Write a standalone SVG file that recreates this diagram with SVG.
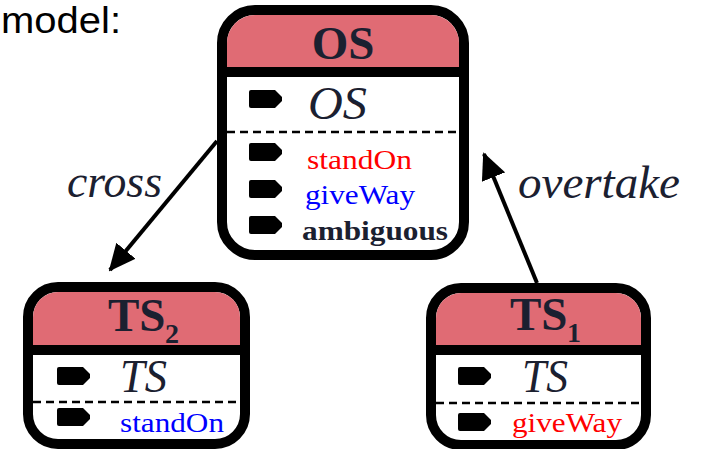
<svg xmlns="http://www.w3.org/2000/svg" width="703" height="449" viewBox="0 0 703 449">
<style>
.box{fill:#ffffff;stroke:#000;stroke-width:10}
.hdr{fill:#e06b74}
.sep{stroke:#000;stroke-width:10}
.dash{stroke:#000;stroke-width:2.5;stroke-dasharray:8 5}
.title{font-family:"Liberation Serif","Times New Roman",serif;font-weight:bold;font-size:47px;fill:#1b2030}
.sub{font-family:"Liberation Serif","Times New Roman",serif;font-weight:bold;font-size:28px;fill:#1b2030}
.it{font-family:"Liberation Serif","Times New Roman",serif;font-style:italic;font-size:46px;fill:#1b2030}
.item{font-family:"Liberation Serif","Times New Roman",serif;font-size:28px}
.conn{stroke:#000;stroke-width:4;fill:none}
</style>
<defs>
<path id="tag" d="M0,2 Q0,0 2,0 H26 L33,7 V11 L26,18 H2 Q0,18 0,16 Z" fill="#000"/>
<marker id="ah" markerUnits="userSpaceOnUse" markerWidth="27" markerHeight="25" refX="25" refY="12.5" orient="auto">
<path d="M0,0 L27,12.5 L0,25 Z" fill="#000"/>
</marker>
</defs>
<text x="1" y="33" font-family="Liberation Sans, Arial, sans-serif" font-size="36" fill="#000" textLength="120" lengthAdjust="spacingAndGlyphs">model:</text>
<g id="connectors">
<line class="conn" x1="217" y1="141" x2="110" y2="270" marker-end="url(#ah)"/>
<line class="conn" x1="537" y1="283" x2="484" y2="154" marker-end="url(#ah)"/>
<text class="it" x="67" y="197" textLength="95" lengthAdjust="spacingAndGlyphs">cross</text>
<text class="it" x="518" y="198" textLength="162" lengthAdjust="spacingAndGlyphs">overtake</text>
</g>
<g id="OS">
<rect class="box" x="222" y="10" width="242" height="245" rx="33"/>
<path class="hdr" d="M227,72 V43 A28,28 0 0 1 255,15 H431 A28,28 0 0 1 459,43 V72 Z"/>
<line class="sep" x1="222" y1="72" x2="464" y2="72"/>
<text class="title" x="343" y="59" text-anchor="middle">OS</text>
<use href="#tag" x="249" y="90"/>
<text class="it" x="308" y="119" textLength="59" lengthAdjust="spacingAndGlyphs">OS</text>
<line class="dash" x1="227" y1="132" x2="459" y2="132"/>
<use href="#tag" x="249" y="143"/>
<text class="item" x="307" y="169" fill="#ff0000" textLength="105" lengthAdjust="spacingAndGlyphs">standOn</text>
<use href="#tag" x="249" y="180"/>
<text class="item" x="305" y="204" fill="#0000ff" textLength="110" lengthAdjust="spacingAndGlyphs">giveWay</text>
<use href="#tag" x="249" y="216"/>
<text class="item" x="302" y="240" fill="#1b2030" font-weight="bold" textLength="146" lengthAdjust="spacingAndGlyphs">ambiguous</text>
</g>
<g id="TS2">
<rect class="box" x="28" y="287" width="217" height="157" rx="30"/>
<path class="hdr" d="M33,350 V317 A25,25 0 0 1 58,292 H215 A25,25 0 0 1 240,317 V350 Z"/>
<line class="sep" x1="28" y1="350" x2="245" y2="350"/>
<text class="title" x="108" y="331">TS</text>
<text class="sub" x="165" y="343">2</text>
<use href="#tag" x="57" y="367"/>
<text class="it" x="120" y="392" textLength="47" lengthAdjust="spacingAndGlyphs">TS</text>
<line class="dash" x1="33" y1="402" x2="240" y2="402"/>
<use href="#tag" x="57" y="408"/>
<text class="item" x="120" y="432" fill="#0000ff" textLength="104" lengthAdjust="spacingAndGlyphs">standOn</text>
</g>
<g id="TS1">
<rect class="box" x="431" y="288" width="215" height="157" rx="30"/>
<path class="hdr" d="M436,350 V318 A25,25 0 0 1 461,293 H616 A25,25 0 0 1 641,318 V350 Z"/>
<line class="sep" x1="431" y1="350" x2="646" y2="350"/>
<text class="title" x="510" y="330">TS</text>
<text class="sub" x="567" y="342">1</text>
<use href="#tag" x="458" y="367"/>
<text class="it" x="522" y="392" textLength="46" lengthAdjust="spacingAndGlyphs">TS</text>
<line class="dash" x1="436" y1="403" x2="641" y2="403"/>
<use href="#tag" x="458" y="413"/>
<text class="item" x="512" y="432" fill="#ff0000" textLength="110" lengthAdjust="spacingAndGlyphs">giveWay</text>
</g>
</svg>
